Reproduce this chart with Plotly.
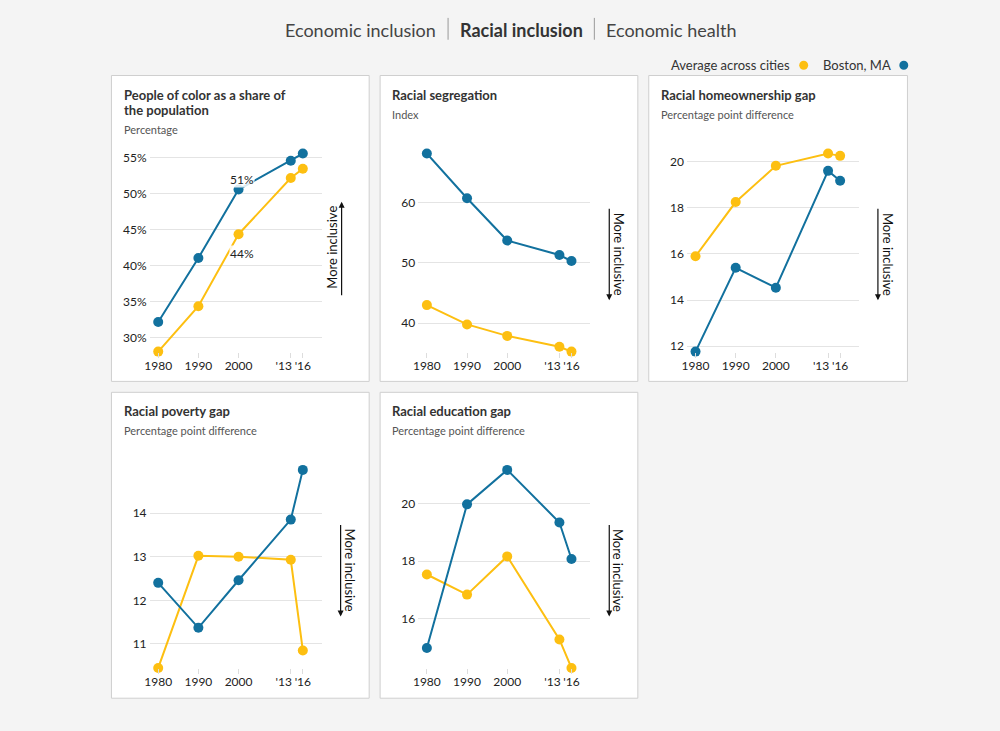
import plotly.graph_objects as go

# ---------------- data ----------------
years = [1980, 1990, 2000, 2013, 2016]
year_labels = ["1980", "1990", "2000", "'13", "'16"]

poc_avg = [28.1, 34.4, 44.4, 52.2, 53.5]
poc_boston = [32.2, 41.1, 50.6, 54.6, 55.6]
seg_avg = [43.0, 39.8, 37.9, 36.1, 35.3]
seg_boston = [68.1, 60.7, 53.7, 51.3, 50.3]
home_avg = [15.9, 18.25, 19.82, 20.35, 20.25]
home_boston = [11.77, 15.4, 14.54, 19.6, 19.17]
pov_avg = [10.45, 13.02, 13.0, 12.93, 10.85]
pov_boston = [12.40, 11.37, 12.46, 13.85, 14.99]
edu_avg = [17.54, 16.84, 18.17, 15.28, 14.29]
edu_boston = [14.98, 19.98, 21.18, 19.35, 18.08]

poc_ticks = [30, 35, 40, 45, 50, 55]
poc_tick_labels = [f"{v}%" for v in poc_ticks]
seg_ticks = [40, 50, 60]
home_ticks = [12, 14, 16, 18, 20]
pov_ticks = [11, 12, 13, 14]
edu_ticks = [16, 18, 20]

titles = [
    ["People of color as a share of", "the population"],
    ["Racial segregation"],
    ["Racial homeownership gap"],
    ["Racial poverty gap"],
    ["Racial education gap"],
]
subtitles = ["Percentage", "Index", "Percentage point difference",
             "Percentage point difference", "Percentage point difference"]
header_items = ["Economic inclusion", "Racial inclusion", "Economic health"]
legend_names = ["Average across cities", "Boston, MA"]

# ---------------- style ----------------
W, H = 1000, 731
BLUE = "#12719e"
YELLOW = "#fdbf11"
BG = "#f4f4f4"
FONT = "Lato"

def px(x):
    return x / W

def py(y):
    return 1 - y / H

panels = [
    dict(avg=poc_avg, bos=poc_boston, ticks=poc_ticks, labels=poc_tick_labels,
         box=(107, 73, 366, 381), dx=0, dy=0, up=True),
    dict(avg=seg_avg, bos=seg_boston, ticks=seg_ticks, labels=[str(v) for v in seg_ticks],
         box=(377, 73, 636, 381), dx=270, dy=0, up=False),
    dict(avg=home_avg, bos=home_boston, ticks=home_ticks, labels=[str(v) for v in home_ticks],
         box=(647, 73, 907, 381), dx=540, dy=0, up=False),
    dict(avg=pov_avg, bos=pov_boston, ticks=pov_ticks, labels=[str(v) for v in pov_ticks],
         box=(107, 392, 366, 700), dx=0, dy=318.5, up=False),
    dict(avg=edu_avg, bos=edu_boston, ticks=edu_ticks, labels=[str(v) for v in edu_ticks],
         box=(377, 392, 636, 700), dx=270, dy=318.5, up=False),
]

main_labels = [lab if lab != "'13" else "" for lab in year_labels]
shifted_idx = year_labels.index("'13")

fig = go.Figure()
shapes = []
annotations = []
layout_axes = {}

for i, p in enumerate(panels):
    n = "" if i == 0 else str(i + 1)
    xa, ya = "x" + n, "y" + n
    x0, y0, x1, y1 = p["box"]
    shapes.append(dict(type="rect", xref="paper", yref="paper",
                       x0=px(x0), x1=px(x1), y0=py(y1), y1=py(y0),
                       fillcolor="white", line=dict(color="#cfcfcf", width=1),
                       layer="below"))
    for name, vals, col in [(legend_names[0], p["avg"], YELLOW),
                            (legend_names[1], p["bos"], BLUE)]:
        fig.add_trace(go.Scatter(x=years, y=vals, mode="lines+markers", name=name,
                                 xaxis=xa, yaxis=ya, showlegend=False,
                                 line=dict(color=col, width=2),
                                 marker=dict(color=col, size=10),
                                 cliponaxis=False, hoverinfo="x+y"))
    allv = p["avg"] + p["bos"]
    dom_x = [px(145.3 + p["dx"]), px(318.3 + p["dx"])]
    dom_y = [py(351.0 + p["dy"]), py(151.6 + p["dy"])]
    xrange_ = [1977.85, 2020.7]
    tickfont = dict(family=FONT, size=12, color="#222")
    layout_axes["xaxis" + n] = dict(
        domain=dom_x, range=xrange_, anchor=ya,
        tickvals=years, ticktext=main_labels, tickangle=0, showgrid=False, zeroline=False,
        showline=False, ticks="outside", ticklen=5, tickcolor="#dddddd",
        ticklabelstandoff=-2, tickfont=tickfont)
    # overlay axis carrying the "'13" label, nudged left of its tick
    k = str(i + 6)
    layout_axes["xaxis" + k] = dict(
        domain=dom_x, range=xrange_, anchor=ya, overlaying=xa, side="bottom",
        tickvals=[years[shifted_idx]], ticktext=[year_labels[shifted_idx]],
        tickangle=0, showgrid=False, zeroline=False, showline=False,
        ticks="outside", ticklen=5, tickcolor="#dddddd",
        ticklabelshift=-7, ticklabelstandoff=-2, tickfont=tickfont)
    layout_axes["yaxis" + n] = dict(
        domain=dom_y, range=[min(allv), max(allv)], anchor=xa,
        tickvals=p["ticks"], ticktext=p["labels"], showgrid=True,
        gridcolor="#e4e4e4", gridwidth=1, zeroline=False, showline=False,
        ticks="", ticklabelstandoff=2, tickfont=tickfont)
    # invisible helper trace so the overlay axis is drawn
    fig.add_trace(go.Scatter(x=[years[shifted_idx]], y=[p["bos"][shifted_idx]],
                             mode="markers", xaxis="x" + k, yaxis=ya, showlegend=False,
                             marker=dict(size=1, opacity=0), hoverinfo="skip"))

    # titles
    tx = x0 + 10.3
    ty = 92.7 + p["dy"]
    for li, line in enumerate(titles[i]):
        annotations.append(dict(xref="paper", yref="paper", x=px(tx), y=py(ty + li * 15),
                                text=f"<b>{line}</b>", showarrow=False, xanchor="left",
                                yanchor="middle",
                                font=dict(family=FONT, size=13, color="#333")))
    sy = ty + 15 * (len(titles[i]) - 1) + 19.5
    annotations.append(dict(xref="paper", yref="paper", x=px(tx), y=py(sy),
                            text=subtitles[i], showarrow=False, xanchor="left",
                            yanchor="middle",
                            font=dict(family=FONT, size=11, color="#555")))

    # "More inclusive" arrow
    if p["up"]:
        ax_x = 338.3 + p["dx"]
        annotations.append(dict(xref="paper", yref="paper", x=px(ax_x), y=py(200),
                                ax=0, ay=95, axref="pixel", ayref="pixel", text="",
                                showarrow=True, arrowhead=2, arrowsize=1, arrowwidth=1.2,
                                arrowcolor="#111", standoff=0, startstandoff=0))
        annotations.append(dict(xref="paper", yref="paper", x=px(329 + p["dx"]), y=py(246),
                                text="More inclusive", textangle=-90, showarrow=False,
                                xanchor="center", yanchor="middle",
                                font=dict(family=FONT, size=13, color="#111")))
    else:
        ax_x = 607.3 + p["dx"] - 270
        head_y = 299.3 + p["dy"]
        annotations.append(dict(xref="paper", yref="paper", x=px(ax_x), y=py(head_y),
                                ax=0, ay=-93, axref="pixel", ayref="pixel", text="",
                                showarrow=True, arrowhead=2, arrowsize=1, arrowwidth=1.2,
                                arrowcolor="#111", standoff=0, startstandoff=0))
        annotations.append(dict(xref="paper", yref="paper", x=px(616.7 + p["dx"] - 270),
                                y=py(253 + p["dy"]),
                                text="More inclusive", textangle=90, showarrow=False,
                                xanchor="center", yanchor="middle",
                                font=dict(family=FONT, size=13, color="#111")))

# value labels in panel 1
annotations.append(dict(xref="x", yref="y", x=years[2], y=poc_boston[2],
                        text=f"{round(poc_boston[2])}%", showarrow=False,
                        xshift=3, yshift=10.5, bgcolor="rgba(255,255,255,0.85)", borderpad=0,
                        font=dict(family=FONT, size=12, color="#222")))
annotations.append(dict(xref="x", yref="y", x=years[2], y=poc_avg[2],
                        text=f"{round(poc_avg[2])}%", showarrow=False,
                        xshift=3, yshift=-19, bgcolor="rgba(255,255,255,0.85)", borderpad=0,
                        font=dict(family=FONT, size=12, color="#222")))

# header
annotations.append(dict(xref="paper", yref="paper", x=px(435.5), y=py(26.7),
                        text=header_items[0], showarrow=False, xanchor="right",
                        yanchor="middle", font=dict(family=FONT, size=18, color="#444")))
annotations.append(dict(xref="paper", yref="paper", x=px(518.8), y=py(26.7),
                        text=f"<b>{header_items[1]}</b>", showarrow=False, xanchor="center",
                        yanchor="middle", font=dict(family=FONT, size=18, color="#333")))
annotations.append(dict(xref="paper", yref="paper", x=px(602.5), y=py(26.7),
                        text=header_items[2], showarrow=False, xanchor="left",
                        yanchor="middle", font=dict(family=FONT, size=18, color="#444")))
for sx in [445.3, 592.3]:
    shapes.append(dict(type="line", xref="paper", yref="paper", x0=px(sx), x1=px(sx),
                       y0=py(37), y1=py(15), line=dict(color="#999", width=1)))

# legend
annotations.append(dict(xref="paper", yref="paper", x=px(790.5), y=py(62.7),
                        text=legend_names[0], showarrow=False, xanchor="right",
                        yanchor="middle", font=dict(family=FONT, size=13, color="#333")))
annotations.append(dict(xref="paper", yref="paper", x=px(892), y=py(62.7),
                        text=legend_names[1], showarrow=False, xanchor="right",
                        yanchor="middle", font=dict(family=FONT, size=13, color="#333")))
for cx, col in [(802.7, YELLOW), (903.3, BLUE)]:
    shapes.append(dict(type="circle", xref="paper", yref="paper",
                       x0=px(cx - 4.5), x1=px(cx + 4.5), y0=py(62.7 + 4.5), y1=py(62.7 - 4.5),
                       fillcolor=col, line=dict(width=0)))

fig.update_layout(
    width=W, height=H, margin=dict(l=0, r=0, t=0, b=0),
    paper_bgcolor=BG, plot_bgcolor="rgba(0,0,0,0)",
    showlegend=False, shapes=shapes, annotations=annotations,
    font=dict(family=FONT), **layout_axes)

fig.write_html("out.html", config={"displayModeBar": False},
               post_script="document.body.style.margin='0';"
                           "document.body.style.background='" + BG + "';")
